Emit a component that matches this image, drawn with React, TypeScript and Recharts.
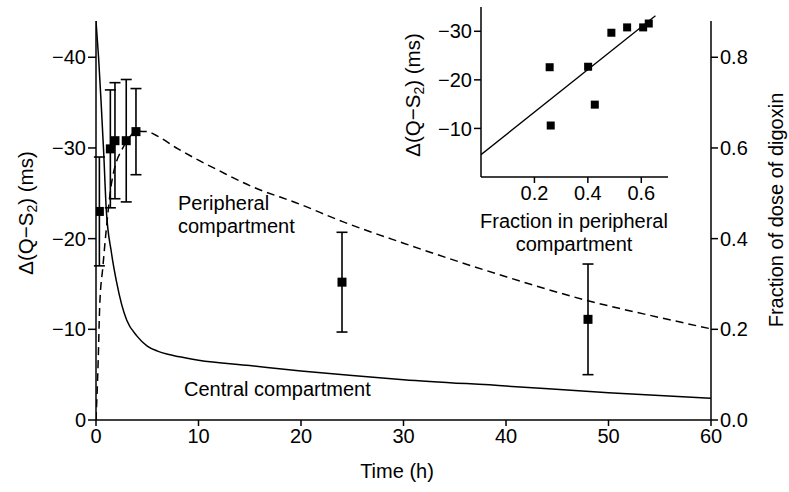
import React from 'react';
import { ComposedChart, Line, Scatter, ErrorBar, XAxis, YAxis } from 'recharts';

// ---- main chart data ----
const timeTicks = [0, 10, 20, 30, 40, 50, 60];
const qsTicks = [0, -10, -20, -30, -40];
const fracTicks = [0, 0.2, 0.4, 0.6, 0.8];

const centralTime = [0, 0.25, 0.5, 0.75, 1, 1.5, 2, 2.5, 3, 4, 5, 6, 7, 8, 10, 15, 20, 25, 30, 40, 50, 60];
const centralFrac = [0.88, 0.8, 0.7, 0.59, 0.465, 0.37, 0.305, 0.255, 0.22, 0.185, 0.163, 0.152, 0.145, 0.14, 0.132, 0.12, 0.108, 0.098, 0.089, 0.075, 0.06, 0.048];

const periphTime = [0, 0.2, 0.36, 0.68, 1, 1.5, 2, 2.5, 3, 4, 5, 6, 8, 10, 12, 15, 20, 24, 30, 35, 40, 48, 55, 60];
const periphFrac = [0, 0.12, 0.25, 0.34, 0.42, 0.52, 0.57, 0.595, 0.615, 0.637, 0.636, 0.626, 0.598, 0.573, 0.55, 0.517, 0.475, 0.438, 0.39, 0.352, 0.316, 0.263, 0.226, 0.201];

const obsTime = [0.33, 1.4, 1.85, 2.95, 3.9, 24, 48];
const obsQS = [-23.0, -29.9, -30.8, -30.8, -31.8, -15.2, -11.1];
const obsErr = [6.0, 6.5, 6.4, 6.75, 4.75, 5.5, 6.1];

// ---- inset data ----
const insetXTicks = [0.2, 0.4, 0.6];
const insetYTicks = [-30, -20, -10];
const insetFrac = [0.257, 0.261, 0.401, 0.426, 0.488, 0.547, 0.607, 0.628];
const insetQS = [-22.6, -10.6, -22.7, -14.9, -29.7, -30.8, -30.8, -31.6];
const fitFrac = [0, 0.653];
const fitQS = [-4.6, -33.2];

const centralData = centralTime.map((t, i) => ({ t, f: centralFrac[i] }));
const periphData = periphTime.map((t, i) => ({ t, f: periphFrac[i] }));
const obsData = obsTime.map((t, i) => ({ t, qs: obsQS[i], err: obsErr[i] }));
const insetData = insetFrac.map((fx, i) => ({ fx, qy: insetQS[i] }));
const fitData = fitFrac.map((fx, i) => ({ fx, qy: fitQS[i] }));

const FONT = '"Liberation Sans", Arial, Helvetica, sans-serif';
const tickStyle = { fill: '#000', fontSize: 20, fontFamily: FONT };
const axisLine = { stroke: '#000', strokeWidth: 1.5 };
const tickLine = { stroke: '#000', strokeWidth: 1.5 };

const minusFmt = (v: number) => (v === 0 ? '0' : (v < 0 ? '\u2212' : '') + Math.abs(v));

const Square = (size: number) => (props: any) => {
  const { cx, cy } = props;
  if (cx == null || cy == null) return null;
  return <rect x={cx - size / 2} y={cy - size / 2} width={size} height={size} fill="#000" />;
};

export default function App() {
  return (
    <div style={{ position: 'absolute', left: 0, top: 0, width: 789, height: 492, background: '#fff' }}>
      <div style={{ position: 'absolute', left: 0, top: 0 }}>
        <ComposedChart width={789} height={492} margin={{ top: 21, right: 0, bottom: 0, left: 0 }}>
          <XAxis
            type="number"
            dataKey="t"
            domain={[0, 60]}
            ticks={timeTicks}
            height={72}
            tickSize={6}
            tickMargin={3}
            axisLine={axisLine}
            tickLine={tickLine}
            tick={tickStyle}
            allowDataOverflow
          />
          <YAxis
            yAxisId="left"
            orientation="left"
            dataKey="qs"
            type="number"
            domain={[-44, 0]}
            reversed
            ticks={qsTicks}
            tickFormatter={minusFmt}
            width={96}
            tickSize={8}
            tickMargin={2}
            axisLine={axisLine}
            tickLine={tickLine}
            tick={tickStyle}
            allowDataOverflow
          />
          <YAxis
            yAxisId="right"
            orientation="right"
            dataKey="f"
            type="number"
            domain={[0, 0.88]}
            ticks={fracTicks}
            tickFormatter={(v: number) => v.toFixed(1)}
            width={78}
            tickSize={7}
            tickMargin={2}
            axisLine={axisLine}
            tickLine={tickLine}
            tick={tickStyle}
            allowDataOverflow
          />
          <Line
            yAxisId="right"
            data={centralData}
            dataKey="f"
            type="monotone"
            stroke="#000"
            strokeWidth={1.5}
            dot={false}
            activeDot={false}
            isAnimationActive={false}
          />
          <Line
            yAxisId="right"
            data={periphData}
            dataKey="f"
            type="monotone"
            stroke="#000"
            strokeWidth={1.5}
            strokeDasharray="8 5"
            dot={false}
            activeDot={false}
            isAnimationActive={false}
          />
          <Scatter
            yAxisId="left"
            data={obsData}
            dataKey="qs"
            shape={Square(9)}
            isAnimationActive={false}
          >
            <ErrorBar dataKey="err" direction="y" width={5.5} stroke="#000" strokeWidth={1.6} />
          </Scatter>
        </ComposedChart>
      </div>

      <div style={{ position: 'absolute', left: 400, top: 0 }}>
        <ComposedChart width={290} height={260} margin={{ top: 7, right: 22, bottom: 0, left: 0 }}>
          <XAxis
            type="number"
            dataKey="fx"
            domain={[0, 0.7]}
            ticks={insetXTicks}
            tickFormatter={(v: number) => v.toFixed(1)}
            height={83}
            tickSize={6}
            tickMargin={3}
            axisLine={axisLine}
            tickLine={tickLine}
            tick={tickStyle}
            allowDataOverflow
          />
          <YAxis
            type="number"
            dataKey="qy"
            domain={[-35, 0]}
            reversed
            ticks={insetYTicks}
            tickFormatter={minusFmt}
            width={81}
            tickSize={7}
            tickMargin={2}
            axisLine={axisLine}
            tickLine={tickLine}
            tick={tickStyle}
            allowDataOverflow
          />
          <Line
            data={fitData}
            dataKey="qy"
            type="linear"
            stroke="#000"
            strokeWidth={1.3}
            dot={false}
            activeDot={false}
            isAnimationActive={false}
          />
          <Scatter data={insetData} dataKey="qy" shape={Square(8)} isAnimationActive={false} />
        </ComposedChart>
      </div>

      <svg
        width={789}
        height={492}
        style={{ position: 'absolute', left: 0, top: 0, pointerEvents: 'none' }}
        fontFamily={FONT}
        fontSize={20}
        fill="#000"
      >
        <text x={178} y={210}>Peripheral</text>
        <text x={178} y={233}>compartment</text>
        <text x={184} y={396}>Central compartment</text>
        <text x={397} y={478} textAnchor="middle">Time (h)</text>
        <text transform="translate(33,213) rotate(-90)" textAnchor="middle" fontSize={20.5}>
          Δ(Q−S<tspan fontSize={14} dy={4}>2</tspan><tspan dy={-4}>) (ms)</tspan>
        </text>
        <text transform="translate(783,210) rotate(-90)" textAnchor="middle">Fraction of dose of digoxin</text>
        <text transform="translate(420,95) rotate(-90)" textAnchor="middle" fontSize={20.5}>
          Δ(Q−S<tspan fontSize={14} dy={4}>2</tspan><tspan dy={-4}>) (ms)</tspan>
        </text>
        <text x={574} y={228} textAnchor="middle">Fraction in peripheral</text>
        <text x={574} y={251} textAnchor="middle">compartment</text>
      </svg>
    </div>
  );
}
